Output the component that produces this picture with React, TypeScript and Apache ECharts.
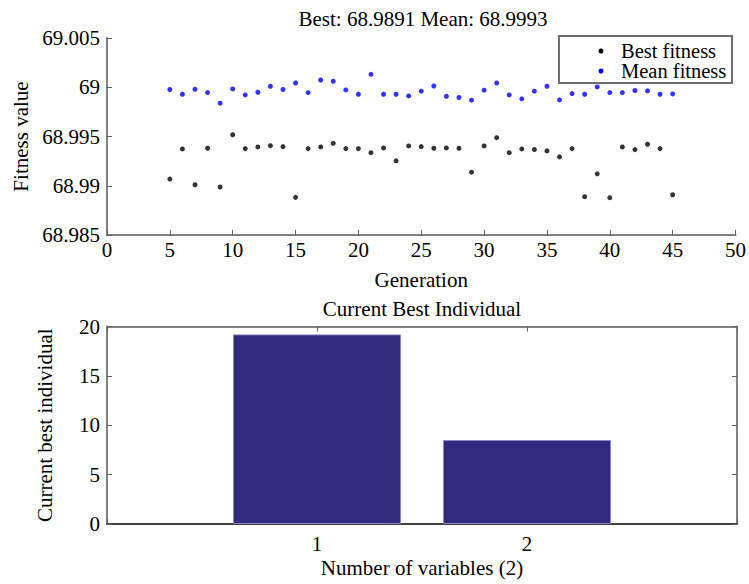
import React, { useEffect, useRef } from "react";
import * as echarts from "echarts";

const FONT = "'Liberation Serif', 'Times New Roman', serif";

const generations = [
  5, 6, 7, 8, 9, 10, 11, 12, 13, 14, 15, 16, 17, 18, 19, 20, 21, 22, 23, 24, 25,
  26, 27, 28, 29, 30, 31, 32, 33, 34, 35, 36, 37, 38, 39, 40, 41, 42, 43, 44, 45,
];

const bestFitness = [
  68.99068, 68.99374, 68.9901, 68.99381, 68.98987, 68.99518, 68.99377, 68.99394,
  68.99407, 68.99397, 68.98882, 68.99377, 68.99394, 68.99431, 68.99377, 68.99377,
  68.99336, 68.99384, 68.99253, 68.99404, 68.99397, 68.99381, 68.99384, 68.99381,
  68.99138, 68.99404, 68.99488, 68.99336, 68.99374, 68.99368, 68.99354, 68.99293,
  68.99377, 68.98889, 68.99121, 68.98879, 68.99394, 68.99367, 68.99421, 68.99377,
  68.98909,
];

const meanFitness = [
  68.99977, 68.99929, 68.9998, 68.99946, 68.99838, 68.99983, 68.99922, 68.99949,
  69.0001, 68.99977, 69.00043, 68.99946, 69.00074, 69.00061, 68.99973, 68.99929,
  69.00131, 68.99929, 68.99929, 68.99912, 68.9996, 69.00013, 68.99909, 68.99896,
  68.99869, 68.9997, 69.00043, 68.99922, 68.99882, 68.9996, 69.0001, 68.99872,
  68.99936, 68.99929, 69.00003, 68.99946, 68.99946, 68.99967, 68.99963, 68.99929,
  68.99932,
];

const variableIndex = [1, 2];
const currentBest = [19.2, 8.5];

const seriesNames = ["Best fitness", "Mean fitness"];
const seriesColors = ["#000000", "#0000ff"];

const topTitle = "Best: 68.9891 Mean: 68.9993";
const bottomTitle = "Current Best Individual";

export default function App() {
  const ref = useRef<HTMLDivElement>(null);

  useEffect(() => {
    if (!ref.current) return;
    const chart = echarts.init(ref.current, undefined, { renderer: "svg" });

    const labelStyle = { color: "#000", fontSize: 21, fontFamily: FONT };
    const nameStyle = { color: "#000", fontSize: 21, fontFamily: FONT };
    const grayLine = { color: "#808080", width: 2 };
    const tick = { show: true, inside: true, length: 5, lineStyle: { color: "#606060", width: 1 } };

    const legendChildren: any[] = [
      {
        type: "rect",
        shape: { x: 559, y: 36, width: 173, height: 47 },
        style: { fill: "#fff", stroke: "#6e6e6e", lineWidth: 2 },
      },
    ];
    seriesNames.forEach((name, i) => {
      const cy = 51 + i * 20;
      legendChildren.push({
        type: "circle",
        shape: { cx: 601, cy, r: 2.5 },
        style: { fill: seriesColors[i] },
      });
      legendChildren.push({
        type: "text",
        x: 621,
        y: cy,
        style: {
          text: name,
          align: "left",
          verticalAlign: "middle",
          fontSize: 20.5,
          lineHeight: 18,
          fontFamily: FONT,
          fill: "#000",
        },
      });
    });

    const option: any = {
      animation: false,
      backgroundColor: "#fff",
      graphic: [
        {
          type: "text",
          x: 423,
          y: 19,
          style: {
            text: topTitle,
            align: "center",
            verticalAlign: "middle",
            fontSize: 21,
            fontFamily: FONT,
            fill: "#000",
          },
        },
        {
          type: "text",
          x: 422,
          y: 309,
          style: {
            text: bottomTitle,
            align: "center",
            verticalAlign: "middle",
            fontSize: 21,
            fontFamily: FONT,
            fill: "#000",
          },
        },
        { type: "group", z: 100, children: legendChildren },
      ],
      grid: [
        { left: 107, top: 38, width: 632, height: 197 },
        { left: 107, top: 326.5, width: 630, height: 197.5 },
      ],
      xAxis: [
        {
          gridIndex: 0,
          type: "value",
          min: 0,
          max: 50,
          interval: 5,
          axisLine: { show: true, onZero: false, lineStyle: grayLine },
          axisTick: tick,
          axisLabel: { ...labelStyle, margin: 4 },
          splitLine: { show: false },
          name: "Generation",
          nameLocation: "middle",
          nameGap: 34,
          nameTextStyle: nameStyle,
        },
        {
          gridIndex: 1,
          type: "value",
          min: 0,
          max: 3,
          interval: 1,
          axisLine: { show: true, onZero: false, lineStyle: { color: "#404040", width: 2 } },
          axisTick: tick,
          axisLabel: {
            ...labelStyle,
            margin: 9,
            formatter: (v: number) => (v === 1 || v === 2 ? String(v) : ""),
          },
          splitLine: { show: false },
          name: "Number of variables (2)",
          nameLocation: "middle",
          nameGap: 33,
          nameTextStyle: nameStyle,
        },
        {
          gridIndex: 1,
          type: "value",
          position: "top",
          min: 0,
          max: 3,
          interval: 1,
          axisLine: { show: true, onZero: false, lineStyle: grayLine },
          axisTick: tick,
          axisLabel: { show: false },
          splitLine: { show: false },
        },
      ],
      yAxis: [
        {
          gridIndex: 0,
          type: "value",
          min: 68.985,
          max: 69.005,
          interval: 0.005,
          axisLine: { show: true, onZero: false, lineStyle: grayLine },
          axisTick: tick,
          axisLabel: { ...labelStyle, margin: 7 },
          splitLine: { show: false },
          name: "Fitness value",
          nameLocation: "middle",
          nameGap: 72,
          nameTextStyle: nameStyle,
        },
        {
          gridIndex: 1,
          type: "value",
          min: 0,
          max: 20,
          interval: 5,
          axisLine: { show: true, onZero: false, lineStyle: grayLine },
          axisTick: tick,
          axisLabel: { ...labelStyle, margin: 7 },
          splitLine: { show: false },
          name: "Current best individual",
          nameLocation: "middle",
          nameGap: 52,
          nameTextStyle: nameStyle,
        },
        {
          gridIndex: 1,
          type: "value",
          position: "right",
          min: 0,
          max: 20,
          interval: 5,
          axisLine: { show: true, onZero: false, lineStyle: grayLine },
          axisTick: tick,
          axisLabel: { show: false },
          splitLine: { show: false },
        },
      ],
      series: [
        {
          name: seriesNames[0],
          type: "scatter",
          xAxisIndex: 0,
          yAxisIndex: 0,
          symbol: "circle",
          symbolSize: 5,
          itemStyle: { color: seriesColors[0] },
          data: generations.map((g, i) => [g, bestFitness[i]]),
        },
        {
          name: seriesNames[1],
          type: "scatter",
          xAxisIndex: 0,
          yAxisIndex: 0,
          symbol: "circle",
          symbolSize: 5,
          itemStyle: { color: seriesColors[1] },
          data: generations.map((g, i) => [g, meanFitness[i]]),
        },
        {
          name: "Current best",
          type: "bar",
          xAxisIndex: 1,
          yAxisIndex: 1,
          barWidth: "80%",
          itemStyle: { color: "#322a7e", borderColor: "#8a86c8", borderWidth: 1 },
          data: variableIndex.map((v, i) => [v, currentBest[i]]),
        },
      ],
    };

    chart.setOption(option);
    return () => chart.dispose();
  }, []);

  return (
    <div
      ref={ref}
      style={{ position: "fixed", left: 0, top: 0, width: 749, height: 584, background: "#fff" }}
    />
  );
}
